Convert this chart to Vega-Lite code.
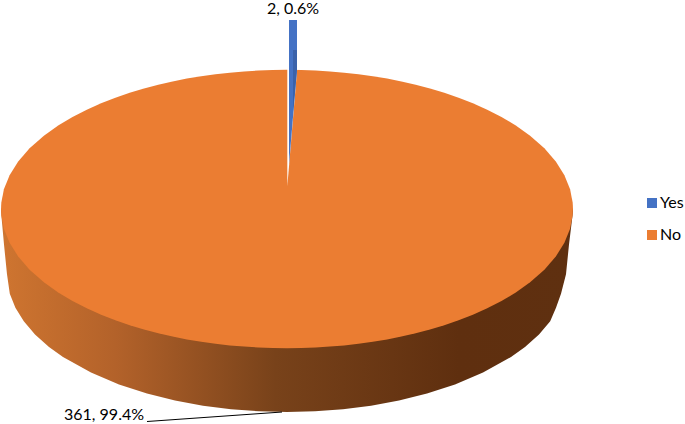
{"$schema":"https://vega.github.io/schema/vega-lite/v6.json","width":685,"height":424,"padding":0,"autosize":{"type":"fit","contains":"padding"},"background":"white","view":{"stroke":null},
"datasets":{
"top":[{"x":1,"y":209.5,"y2":209.5},{"x":1.3,"y":203.3,"y2":215.7},{"x":3.9,"y":189.8,"y2":229.2},{"x":9.6,"y":175.6,"y2":243.4},{"x":18.2,"y":161.9,"y2":257.1},{"x":29.6,"y":148.7,"y2":270.3},{"x":43.9,"y":136,"y2":283},{"x":58.2,"y":125.8,"y2":293.2},{"x":72.5,"y":117.2,"y2":301.8},{"x":86.8,"y":109.9,"y2":309.1},{"x":101.1,"y":103.5,"y2":315.5},{"x":115.4,"y":97.9,"y2":321.1},{"x":129.7,"y":93,"y2":326},{"x":144,"y":88.7,"y2":330.3},{"x":158.3,"y":84.9,"y2":334.1},{"x":172.6,"y":81.6,"y2":337.4},{"x":186.9,"y":78.8,"y2":340.2},{"x":201.2,"y":76.4,"y2":342.6},{"x":215.5,"y":74.4,"y2":344.6},{"x":229.8,"y":72.8,"y2":346.2},{"x":244.1,"y":71.6,"y2":347.4},{"x":258.4,"y":70.7,"y2":348.3},{"x":272.7,"y":70.2,"y2":348.8},{"x":287,"y":70,"y2":349},{"x":301.3,"y":70.2,"y2":348.8},{"x":315.6,"y":70.7,"y2":348.3},{"x":329.9,"y":71.6,"y2":347.4},{"x":344.2,"y":72.8,"y2":346.2},{"x":358.5,"y":74.4,"y2":344.6},{"x":372.8,"y":76.4,"y2":342.6},{"x":387.1,"y":78.8,"y2":340.2},{"x":401.4,"y":81.6,"y2":337.4},{"x":415.7,"y":84.9,"y2":334.1},{"x":430,"y":88.7,"y2":330.3},{"x":444.3,"y":93,"y2":326},{"x":458.6,"y":97.9,"y2":321.1},{"x":472.9,"y":103.5,"y2":315.5},{"x":487.2,"y":109.9,"y2":309.1},{"x":501.5,"y":117.2,"y2":301.8},{"x":515.8,"y":125.8,"y2":293.2},{"x":530.1,"y":136,"y2":283},{"x":544.4,"y":148.7,"y2":270.3},{"x":555.8,"y":161.9,"y2":257.1},{"x":564.4,"y":175.6,"y2":243.4},{"x":570.1,"y":189.8,"y2":229.2},{"x":572.7,"y":203.3,"y2":215.7},{"x":573,"y":209.5,"y2":209.5}],
"wall":[{"x":1,"y":212},{"x":4,"y":245},{"x":7,"y":275},{"x":9.8,"y":294.5},{"x":15.4,"y":308.5},{"x":23.8,"y":322.1},{"x":35,"y":335.2},{"x":49,"y":347.7},{"x":63,"y":357.8},{"x":91,"y":373.5},{"x":119,"y":385.4},{"x":147,"y":394.5},{"x":175,"y":401.5},{"x":203,"y":406.7},{"x":231,"y":410.2},{"x":259,"y":412.3},{"x":287,"y":413},{"x":315,"y":412.3},{"x":343,"y":410.2},{"x":371,"y":406.7},{"x":399,"y":401.5},{"x":427,"y":394.5},{"x":455,"y":385.4},{"x":483,"y":373.5},{"x":511,"y":357.8},{"x":525,"y":347.7},{"x":539,"y":335.2},{"x":550.2,"y":322.1},{"x":556,"y":308.5},{"x":561,"y":294.5},{"x":566,"y":275},{"x":569,"y":245},{"x":573,"y":212}],
"slit":[{"x":287.3,"y":187,"y2":66},{"x":297.2,"y":69,"y2":66}],
"blue":[{"x":289,"y":20,"y2":165,"series":"Yes"},{"x":297,"y":20,"y2":70,"series":"Yes"}],
"shade":[{"x":293,"y":50,"y2":112},{"x":297,"y":50,"y2":70}],
"leader":[{"x":147,"y":422.5},{"x":282,"y":413}],
"labels":[{"x":293,"y":9,"label":"2, 0.6%"},{"x":104,"y":416,"label":"361, 99.4%"}]
},
"encoding":{},
"layer":[
{"data":{"name":"wall"},"mark":{"type":"area","orient":"vertical","color":{"gradient":"linear","x1":0,"x2":1,"y1":0,"y2":0,"stops":[{"offset":0,"color":"#cf7530"},{"offset":0.2,"color":"#b3622a"},{"offset":0.48,"color":"#78421a"},{"offset":0.8,"color":"#5f2f0f"},{"offset":1,"color":"#5f3010"}]}},"encoding":{"x":{"field":"x","type":"quantitative","axis":null,"scale":{"domain":[0,685],"nice":false,"zero":false}},"y":{"field":"y","type":"quantitative","axis":null,"scale":{"domain":[424,0],"nice":false,"zero":false}},"y2":{"datum":209.5}}},
{"data":{"name":"top"},"transform":[{"calculate":"'No'","as":"series"}],"mark":{"type":"area","orient":"vertical"},"encoding":{"x":{"field":"x","type":"quantitative","axis":null,"scale":{"domain":[0,685],"nice":false,"zero":false}},"y":{"field":"y","type":"quantitative","axis":null,"scale":{"domain":[424,0],"nice":false,"zero":false}},"y2":{"field":"y2"},"color":{"field":"series","type":"nominal","sort":["Yes","No"],"scale":{"domain":["Yes","No"],"range":["#4472c4","#eb7d32"]},"legend":{"title":null,"orient":"none","legendX":644,"legendY":195,"symbolType":"square","symbolSize":100,"symbolStrokeWidth":0,"labelFont":"Lato","labelFontSize":16,"labelColor":"#000000","rowPadding":16,"labelOffset":0}}}},
{"data":{"name":"slit"},"mark":{"type":"area","orient":"vertical","color":"#ffffff"},"encoding":{"x":{"field":"x","type":"quantitative"},"y":{"field":"y","type":"quantitative"},"y2":{"field":"y2"}}},
{"data":{"name":"blue"},"mark":{"type":"area","orient":"vertical"},"encoding":{"x":{"field":"x","type":"quantitative"},"y":{"field":"y","type":"quantitative"},"y2":{"field":"y2"},"color":{"field":"series","type":"nominal"}}},
{"data":{"name":"shade"},"mark":{"type":"area","orient":"vertical","color":"#3a62aa"},"encoding":{"x":{"field":"x","type":"quantitative"},"y":{"field":"y","type":"quantitative"},"y2":{"field":"y2"}}},
{"data":{"name":"leader"},"mark":{"type":"line","color":"#000000","strokeWidth":1},"encoding":{"x":{"field":"x","type":"quantitative"},"y":{"field":"y","type":"quantitative"}}},
{"data":{"name":"labels"},"mark":{"type":"text","font":"Lato","fontSize":16,"color":"#000000","align":"center","baseline":"middle"},"encoding":{"x":{"field":"x","type":"quantitative"},"y":{"field":"y","type":"quantitative"},"text":{"field":"label"}}}
]}
